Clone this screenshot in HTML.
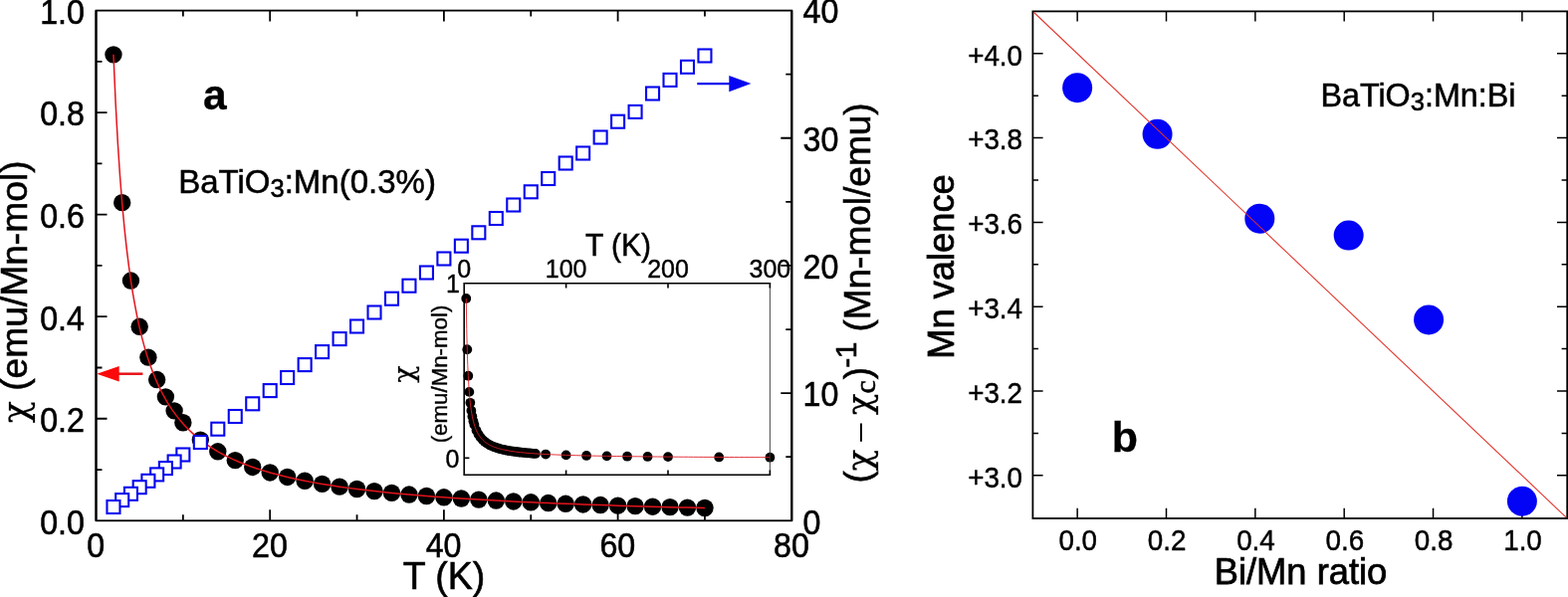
<!DOCTYPE html>
<html lang="en">
<head>
<meta charset="utf-8">
<title>Magnetic susceptibility and Mn valence of BaTiO3:Mn</title>
<style>
html,body{margin:0;padding:0;background:#fff;}
body{width:1575px;height:600px;overflow:hidden;}
svg{display:block;}
text{fill:#000;font-family:"Liberation Sans",sans-serif;}
</style>
</head>
<body>
<svg width="1575" height="600" viewBox="0 0 1575 600" role="img" aria-label="Magnetic susceptibility of BaTiO3:Mn and Mn valence versus Bi/Mn ratio">
<rect x="0" y="0" width="1575" height="600" fill="#fff"/>
<g id="panel-a">
<g fill="#000">
<circle cx="113.97" cy="54.84" r="8.7"/>
<circle cx="122.7" cy="203.64" r="8.7"/>
<circle cx="131.44" cy="282.06" r="8.7"/>
<circle cx="140.18" cy="328.29" r="8.7"/>
<circle cx="148.91" cy="359.13" r="8.7"/>
<circle cx="157.64" cy="381.55" r="8.7"/>
<circle cx="166.38" cy="398.84" r="8.7"/>
<circle cx="175.12" cy="412.86" r="8.7"/>
<circle cx="183.85" cy="424.73" r="8.7"/>
<circle cx="201.32" cy="442.08" r="8.7"/>
<circle cx="218.79" cy="453.79" r="8.7"/>
<circle cx="236.26" cy="462.6" r="8.7"/>
<circle cx="253.73" cy="469.46" r="8.7"/>
<circle cx="271.2" cy="474.96" r="8.7"/>
<circle cx="288.67" cy="479.47" r="8.7"/>
<circle cx="306.14" cy="483.23" r="8.7"/>
<circle cx="323.61" cy="486.41" r="8.7"/>
<circle cx="341.08" cy="489.14" r="8.7"/>
<circle cx="358.55" cy="491.51" r="8.7"/>
<circle cx="376.02" cy="493.59" r="8.7"/>
<circle cx="393.49" cy="495.42" r="8.7"/>
<circle cx="410.96" cy="497.04" r="8.7"/>
<circle cx="428.43" cy="498.5" r="8.7"/>
<circle cx="445.9" cy="499.81" r="8.7"/>
<circle cx="463.37" cy="501" r="8.7"/>
<circle cx="480.84" cy="502.08" r="8.7"/>
<circle cx="498.31" cy="503.07" r="8.7"/>
<circle cx="515.78" cy="503.97" r="8.7"/>
<circle cx="533.25" cy="504.81" r="8.7"/>
<circle cx="550.72" cy="505.57" r="8.7"/>
<circle cx="568.19" cy="506.29" r="8.7"/>
<circle cx="585.66" cy="506.95" r="8.7"/>
<circle cx="603.13" cy="507.56" r="8.7"/>
<circle cx="620.6" cy="508.14" r="8.7"/>
<circle cx="638.07" cy="508.67" r="8.7"/>
<circle cx="655.54" cy="509.18" r="8.7"/>
<circle cx="673.01" cy="509.65" r="8.7"/>
<circle cx="690.48" cy="510.1" r="8.7"/>
<circle cx="707.95" cy="510.52" r="8.7"/>
</g>
<polyline fill="none" stroke="#e3141c" stroke-width="1.5" points="113.97,54.84 116.15,104.07 118.34,143.96 120.52,176.94 122.7,204.67 124.89,228.3 127.07,248.68 129.26,266.44 131.44,282.06 133.62,295.89 135.81,308.24 137.99,319.32 140.18,329.32 142.36,338.39 144.54,346.66 146.73,354.23 148.91,361.18 151.09,367.58 153.28,373.51 155.46,379 157.64,384.11 159.83,388.87 162.01,393.32 164.2,397.49 166.38,401.4 168.56,405.08 170.75,408.55 172.93,411.82 175.12,414.91 177.3,417.84 179.48,420.62 181.67,423.25 183.85,425.76 186.03,428.14 188.22,430.41 190.4,432.58 192.58,434.65 194.77,436.63 196.95,438.53 199.14,440.34 201.32,442.08 203.5,443.75 205.69,445.36 207.87,446.9 210.06,448.38 212.24,449.81 214.42,451.19 216.61,452.51 218.79,453.79 220.97,455.03 223.16,456.22 225.34,457.37 227.53,458.49 229.71,459.56 231.89,460.61 234.08,461.62 236.26,462.6 238.44,463.55 240.63,464.47 242.81,465.36 244.99,466.23 247.18,467.07 249.36,467.89 251.55,468.69 253.73,469.46 255.91,470.21 258.1,470.95 260.28,471.66 262.46,472.35 264.65,473.03 266.83,473.69 269.02,474.33 271.2,474.96 279.94,477.32 288.67,479.47 297.4,481.43 306.14,483.23 314.88,484.88 323.61,486.41 332.34,487.83 341.08,489.14 349.81,490.37 358.55,491.51 367.28,492.58 376.02,493.59 384.75,494.53 393.49,495.42 402.23,496.25 410.96,497.04 419.69,497.79 428.43,498.5 437.16,499.17 445.9,499.81 454.63,500.42 463.37,501 472.1,501.55 480.84,502.08 489.57,502.59 498.31,503.07 507.04,503.53 515.78,503.97 524.51,504.4 533.25,504.81 541.98,505.2 550.72,505.57 559.45,505.94 568.19,506.29 576.92,506.62 585.66,506.95 594.39,507.26 603.13,507.56 611.87,507.85 620.6,508.14 629.33,508.41 638.07,508.67 646.8,508.93 655.54,509.18 664.27,509.42 673.01,509.65 681.75,509.88 690.48,510.1 699.21,510.31 707.95,510.52"/>
<g fill="#fff" stroke="#0505ee" stroke-width="2.1">
<rect x="701.45" y="49.5" width="13" height="13"/>
<rect x="683.98" y="60.8" width="13" height="13"/>
<rect x="666.51" y="73.9" width="13" height="13"/>
<rect x="649.04" y="87.5" width="13" height="13"/>
<rect x="631.57" y="105.9" width="13" height="13"/>
<rect x="614.1" y="115.7" width="13" height="13"/>
<rect x="596.63" y="131.5" width="13" height="13"/>
<rect x="579.16" y="147.5" width="13" height="13"/>
<rect x="561.69" y="157.5" width="13" height="13"/>
<rect x="544.22" y="173" width="13" height="13"/>
<rect x="526.75" y="186.3" width="13" height="13"/>
<rect x="509.28" y="199.5" width="13" height="13"/>
<rect x="491.81" y="213" width="13" height="13"/>
<rect x="474.34" y="227.3" width="13" height="13"/>
<rect x="456.87" y="240.7" width="13" height="13"/>
<rect x="439.4" y="253.5" width="13" height="13"/>
<rect x="421.93" y="267.5" width="13" height="13"/>
<rect x="404.46" y="280.7" width="13" height="13"/>
<rect x="386.99" y="293.7" width="13" height="13"/>
<rect x="369.52" y="307.5" width="13" height="13"/>
<rect x="352.05" y="321.5" width="13" height="13"/>
<rect x="334.58" y="334.1" width="13" height="13"/>
<rect x="317.11" y="347.1" width="13" height="13"/>
<rect x="299.64" y="360.1" width="13" height="13"/>
<rect x="282.17" y="373" width="13" height="13"/>
<rect x="264.7" y="386.1" width="13" height="13"/>
<rect x="247.23" y="399.3" width="13" height="13"/>
<rect x="229.76" y="412" width="13" height="13"/>
<rect x="212.29" y="424.7" width="13" height="13"/>
<rect x="194.82" y="438" width="13" height="13"/>
<rect x="177.35" y="450.5" width="13" height="13"/>
<rect x="168.62" y="457.5" width="13" height="13"/>
<rect x="159.88" y="464.1" width="13" height="13"/>
<rect x="151.14" y="470.4" width="13" height="13"/>
<rect x="142.41" y="476.8" width="13" height="13"/>
<rect x="133.68" y="483.2" width="13" height="13"/>
<rect x="124.94" y="489.8" width="13" height="13"/>
<rect x="116.2" y="496.1" width="13" height="13"/>
<rect x="107.47" y="503" width="13" height="13"/>
</g>
<g id="inset">
<g fill="#000">
<circle cx="468.25" cy="299.94" r="4.9"/>
<circle cx="469.27" cy="351.23" r="4.9"/>
<circle cx="470.3" cy="377.72" r="4.9"/>
<circle cx="471.32" cy="393.9" r="4.9"/>
<circle cx="472.34" cy="404.8" r="4.9"/>
<circle cx="473.37" cy="412.65" r="4.9"/>
<circle cx="474.39" cy="418.57" r="4.9"/>
<circle cx="475.42" cy="423.2" r="4.9"/>
<circle cx="476.44" cy="426.91" r="4.9"/>
<circle cx="478.49" cy="432.5" r="4.9"/>
<circle cx="480.54" cy="436.51" r="4.9"/>
<circle cx="482.58" cy="439.52" r="4.9"/>
<circle cx="484.63" cy="441.87" r="4.9"/>
<circle cx="486.68" cy="443.75" r="4.9"/>
<circle cx="488.73" cy="445.3" r="4.9"/>
<circle cx="490.78" cy="446.58" r="4.9"/>
<circle cx="492.82" cy="447.67" r="4.9"/>
<circle cx="494.87" cy="448.61" r="4.9"/>
<circle cx="496.92" cy="449.42" r="4.9"/>
<circle cx="498.97" cy="450.13" r="4.9"/>
<circle cx="501.02" cy="450.76" r="4.9"/>
<circle cx="503.06" cy="451.31" r="4.9"/>
<circle cx="505.11" cy="451.81" r="4.9"/>
<circle cx="507.16" cy="452.26" r="4.9"/>
<circle cx="509.21" cy="452.67" r="4.9"/>
<circle cx="511.26" cy="453.04" r="4.9"/>
<circle cx="513.3" cy="453.37" r="4.9"/>
<circle cx="515.35" cy="453.68" r="4.9"/>
<circle cx="517.4" cy="453.97" r="4.9"/>
<circle cx="519.45" cy="454.23" r="4.9"/>
<circle cx="521.5" cy="454.48" r="4.9"/>
<circle cx="523.54" cy="454.7" r="4.9"/>
<circle cx="525.59" cy="454.91" r="4.9"/>
<circle cx="527.64" cy="455.11" r="4.9"/>
<circle cx="529.69" cy="455.29" r="4.9"/>
<circle cx="531.74" cy="455.47" r="4.9"/>
<circle cx="533.78" cy="455.63" r="4.9"/>
<circle cx="535.83" cy="455.78" r="4.9"/>
<circle cx="537.88" cy="455.92" r="4.9"/>
<circle cx="548.12" cy="456.54" r="4.9"/>
<circle cx="568.6" cy="457.39" r="4.9"/>
<circle cx="589.08" cy="457.96" r="4.9"/>
<circle cx="609.56" cy="458.37" r="4.9"/>
<circle cx="630.04" cy="458.68" r="4.9"/>
<circle cx="650.52" cy="458.92" r="4.9"/>
<circle cx="671" cy="459.11" r="4.9"/>
<circle cx="722.2" cy="459.45" r="4.9"/>
<circle cx="773.4" cy="459.68" r="4.9"/>
</g>
<polyline fill="none" stroke="#e0202a" stroke-width="0.9" points="468.25,299.94 468.76,330.45 469.27,351.23 469.78,366.3 470.3,377.72 470.81,386.68 471.32,393.9 471.83,399.84 472.34,404.8 472.86,409.03 473.37,412.65 473.88,415.81 474.39,418.57 474.9,421.02 475.42,423.2 475.93,425.15 476.44,426.91 476.95,428.5 477.46,429.96 477.98,431.28 478.49,432.5 479,433.62 479.51,434.66 480.02,435.62 480.54,436.51 481.05,437.34 481.56,438.11 482.07,438.84 482.58,439.52 483.1,440.16 483.61,440.76 484.12,441.33 484.63,441.87 485.14,442.38 485.66,442.86 486.17,443.32 486.68,443.75 487.19,444.17 487.7,444.56 488.22,444.94 488.73,445.3 489.24,445.64 489.75,445.97 490.26,446.28 490.78,446.58 491.29,446.87 491.8,447.15 492.31,447.42 492.82,447.67 493.34,447.92 493.85,448.16 494.36,448.39 494.87,448.61 495.38,448.82 495.9,449.03 496.41,449.23 496.92,449.42 497.43,449.6 497.94,449.78 498.46,449.96 498.97,450.13 499.48,450.29 499.99,450.45 500.5,450.61 501.02,450.76 501.53,450.9 502.04,451.04 502.55,451.18 503.06,451.31 503.58,451.44 504.09,451.57 504.6,451.69 505.11,451.81 505.62,451.93 506.14,452.04 506.65,452.15 507.16,452.26 512.28,453.21 517.4,453.97 522.52,454.59 527.64,455.11 532.76,455.55 537.88,455.92 543,456.25 548.12,456.54 553.24,456.79 558.36,457.01 563.48,457.21 568.6,457.39 573.72,457.56 578.84,457.7 583.96,457.84 589.08,457.96 594.2,458.08 599.32,458.18 604.44,458.28 609.56,458.37 614.68,458.46 619.8,458.54 624.92,458.61 630.04,458.68 635.16,458.74 640.28,458.81 645.4,458.86 650.52,458.92 655.64,458.97 660.76,459.02 665.88,459.06 671,459.11 676.12,459.15 681.24,459.19 686.36,459.23 691.48,459.26 696.6,459.3 701.72,459.33 706.84,459.36 711.96,459.39 717.08,459.42 722.2,459.45 727.32,459.48 732.44,459.5 737.56,459.53 742.68,459.55 747.8,459.58 752.92,459.6 758.04,459.62 763.16,459.64 768.28,459.66 773.4,459.68"/>
<g stroke="#000" stroke-width="1.6" fill="none">
<path d="M773.4 284.8H466.2V477.2H773.4"/>
<path d="M773.4 284.8V477.2" stroke-width="0.9" stroke="#333"/>
<path d="M568.6 284v5.5M568.6 478v-5.5"/>
<path d="M671 284v5.5M671 478v-5.5"/>
<path d="M773.4 284v5.5M773.4 478v-5.5"/>
<path d="M466.2 460.3h5.2"/>
</g>
<text transform="translate(466.2 278.6) scale(1 1.045)" font-size="25" text-anchor="middle" stroke="#000" stroke-width="0.4">0</text>
<text transform="translate(568.6 278.6) scale(1 1.045)" font-size="25" text-anchor="middle" stroke="#000" stroke-width="0.4">100</text>
<text transform="translate(671 278.6) scale(1 1.045)" font-size="25" text-anchor="middle" stroke="#000" stroke-width="0.4">200</text>
<text transform="translate(773.4 278.6) scale(1 1.045)" font-size="25" text-anchor="middle" stroke="#000" stroke-width="0.4">300</text>
<text transform="translate(461.8 294.4) scale(1 1.045)" font-size="25" text-anchor="end" stroke="#000" stroke-width="0.4">1</text>
<text transform="translate(461.3 469.8) scale(1 1.045)" font-size="25" text-anchor="end" stroke="#000" stroke-width="0.4">0</text>
<text transform="translate(621 257) scale(1 1.045)" font-size="30" text-anchor="middle" stroke="#000" stroke-width="0.48">T (K)</text>
<text transform="translate(449.3 376) rotate(-90) scale(1 0.980)" font-size="22.3" text-anchor="middle" stroke="#000" stroke-width="0.36">(emu/Mn-mol)</text>
<text transform="translate(415 376.2) rotate(-90) scale(1 1.000)" font-size="30" text-anchor="middle" stroke="#000" stroke-width="0.48"><tspan font-family='"DejaVu Serif", serif' font-size="28.5" stroke-width="0.25">χ</tspan></text>
</g>
<g stroke="#000" stroke-width="1.8" fill="none">
<rect x="96.5" y="10.6" width="698.8" height="512.7"/>
<path d="M96.5 10.6V523.3M795.3 10.6V523.3" stroke-width="2.1"/>
<path d="M183.85 523.3v-6M183.85 10.6v6M271.2 523.3v-11M271.2 10.6v11M358.55 523.3v-6M358.55 10.6v6M445.9 523.3v-11M445.9 10.6v11M533.25 523.3v-6M533.25 10.6v6M620.6 523.3v-11M620.6 10.6v11M707.95 523.3v-6M707.95 10.6v6M96.5 472.03h6M96.5 420.76h11M96.5 369.49h6M96.5 318.22h11M96.5 266.95h6M96.5 215.68h11M96.5 164.41h6M96.5 113.14h11M96.5 61.87h6M795.3 459.21h-6M795.3 395.12h-11M795.3 331.04h-6M795.3 266.95h-11M795.3 202.86h-6M795.3 138.77h-11M795.3 74.69h-6"/>
</g>
<path d="M143.4 375.7H118" stroke="#e61219" stroke-width="2.5" fill="none"/>
<path d="M97.2 375.7L119.7 368V383.4Z" fill="#fa0a0a"/>
<path d="M700.3 84.1H733" stroke="#0505ee" stroke-width="2.4" fill="none"/>
<path d="M754.4 84.1L732.3 76V92.2Z" fill="#0505f2"/>
<text transform="translate(84.9 536.5) scale(1 1.072)" font-size="32.2" text-anchor="end" stroke="#000" stroke-width="0.52">0.0</text>
<text transform="translate(84.9 433.96) scale(1 1.072)" font-size="32.2" text-anchor="end" stroke="#000" stroke-width="0.52">0.2</text>
<text transform="translate(84.9 331.62) scale(1 1.072)" font-size="32.2" text-anchor="end" stroke="#000" stroke-width="0.52">0.4</text>
<text transform="translate(84.9 228.88) scale(1 1.072)" font-size="32.2" text-anchor="end" stroke="#000" stroke-width="0.52">0.6</text>
<text transform="translate(84.9 125.74) scale(1 1.072)" font-size="32.2" text-anchor="end" stroke="#000" stroke-width="0.52">0.8</text>
<text transform="translate(84.9 23.5) scale(1 1.072)" font-size="32.2" text-anchor="end" stroke="#000" stroke-width="0.52">1.0</text>
<text transform="translate(96.2 560.3) scale(1 1.072)" font-size="32.2" text-anchor="middle" stroke="#000" stroke-width="0.52">0</text>
<text transform="translate(270.9 560.3) scale(1 1.072)" font-size="32.2" text-anchor="middle" stroke="#000" stroke-width="0.52">20</text>
<text transform="translate(445.6 560.3) scale(1 1.072)" font-size="32.2" text-anchor="middle" stroke="#000" stroke-width="0.52">40</text>
<text transform="translate(620.3 560.3) scale(1 1.072)" font-size="32.2" text-anchor="middle" stroke="#000" stroke-width="0.52">60</text>
<text transform="translate(795 560.3) scale(1 1.072)" font-size="32.2" text-anchor="middle" stroke="#000" stroke-width="0.52">80</text>
<text transform="translate(806.6 536.7) scale(1 1.072)" font-size="32.2" stroke="#000" stroke-width="0.52">0</text>
<text transform="translate(806.6 408.23) scale(1 1.072)" font-size="32.2" stroke="#000" stroke-width="0.52">10</text>
<text transform="translate(806.6 280.2) scale(1 1.072)" font-size="32.2" stroke="#000" stroke-width="0.52">20</text>
<text transform="translate(806.6 152.27) scale(1 1.072)" font-size="32.2" stroke="#000" stroke-width="0.52">30</text>
<text transform="translate(806.6 23.2) scale(1 1.072)" font-size="32.2" stroke="#000" stroke-width="0.52">40</text>
<text transform="translate(446 591.9) scale(1 1.045)" font-size="37.5" text-anchor="middle" stroke="#000" stroke-width="0.6">T (K)</text>
<text transform="translate(27 425.3) rotate(-90) scale(1 0.995)" font-size="37.2" stroke="#000" stroke-width="0.6"><tspan font-family='"DejaVu Serif", serif' font-size="36.5" dy="1.5" stroke-width="0.25">χ</tspan><tspan dy="-1.5"> (emu/Mn-mol)</tspan></text>
<text transform="translate(873.9 485.6) rotate(-90) scale(1 1.000)" font-size="37" stroke="#000" stroke-width="0.59"><tspan x="0" y="0">(</tspan><tspan x="12.0" y="0.8" font-family='"DejaVu Serif", serif' font-size="36" stroke-width="0.25">χ</tspan><tspan x="39.9" y="4.4" font-family='"Liberation Serif", serif' font-size="39.4" stroke-width="0">−</tspan><tspan x="68.4" y="0.8" font-family='"DejaVu Serif", serif' font-size="36" stroke-width="0.25">χ</tspan><tspan x="90.2" y="5.4" font-family='"Liberation Serif", serif' font-size="30" stroke-width="0.6">c</tspan><tspan x="104.4" y="0">)</tspan><tspan x="115.8" y="-14.1" font-size="30">-</tspan><tspan x="125.4" y="-14.1" font-size="30">1</tspan><tspan x="152.0" y="0">(Mn-mol/emu)</tspan></text>
<text transform="translate(179.2 193.7) scale(1 1.000)" font-size="33" stroke="#000" stroke-width="0.53">BaTiO<tspan font-size="25.5" dy="4.4">3</tspan><tspan dy="-4.4">:Mn(0.3%)</tspan></text>
<text transform="translate(204 109.7) scale(1 1.000)" font-size="42.5" font-weight="bold" stroke="#000" stroke-width="0.3">a</text>
</g>
<g id="panel-b">
<g stroke="#000" stroke-width="1.5" fill="none">
<rect x="1037.4" y="11.4" width="536.8" height="509.6" stroke-width="1.8"/>
<path d="M1082.15 521v-10.2M1082.15 11.4v10.2M1171.5 521v-10.2M1171.5 11.4v10.2M1260.85 521v-10.2M1260.85 11.4v10.2M1350.2 521v-10.2M1350.2 11.4v10.2M1439.55 521v-10.2M1439.55 11.4v10.2M1528.9 521v-10.2M1528.9 11.4v10.2M1037.4 477.8h10.2M1574.2 477.8h-10.2M1037.4 435.4h5.6M1574.2 435.4h-5.6M1037.4 393h10.2M1574.2 393h-10.2M1037.4 350.6h5.6M1574.2 350.6h-5.6M1037.4 308.2h10.2M1574.2 308.2h-10.2M1037.4 265.8h5.6M1574.2 265.8h-5.6M1037.4 223.4h10.2M1574.2 223.4h-10.2M1037.4 181h5.6M1574.2 181h-5.6M1037.4 138.6h10.2M1574.2 138.6h-10.2M1037.4 96.2h5.6M1574.2 96.2h-5.6M1037.4 53.8h10.2M1574.2 53.8h-10.2"/>
</g>
<g fill="#0303f5">
<circle cx="1082.15" cy="88.22" r="15"/>
<circle cx="1162.57" cy="134.86" r="15"/>
<circle cx="1265.32" cy="219.66" r="15"/>
<circle cx="1354.67" cy="236.62" r="15"/>
<circle cx="1435.08" cy="321.42" r="15"/>
<circle cx="1528.9" cy="503.74" r="15"/>
</g>
<path d="M1038.3 12.25L1573.3 520.15" stroke="#e03228" stroke-width="1.05" fill="none"/>
<text transform="translate(1027 489.6) scale(1 1.070)" font-size="27.8" text-anchor="end" stroke="#000" stroke-width="0.44">+3.0</text>
<text transform="translate(1027 404.8) scale(1 1.070)" font-size="27.8" text-anchor="end" stroke="#000" stroke-width="0.44">+3.2</text>
<text transform="translate(1027 320) scale(1 1.070)" font-size="27.8" text-anchor="end" stroke="#000" stroke-width="0.44">+3.4</text>
<text transform="translate(1027 235.2) scale(1 1.070)" font-size="27.8" text-anchor="end" stroke="#000" stroke-width="0.44">+3.6</text>
<text transform="translate(1027 150.4) scale(1 1.070)" font-size="27.8" text-anchor="end" stroke="#000" stroke-width="0.44">+3.8</text>
<text transform="translate(1027 65.6) scale(1 1.070)" font-size="27.8" text-anchor="end" stroke="#000" stroke-width="0.44">+4.0</text>
<text transform="translate(1082.75 552.9) scale(1 1.070)" font-size="27.8" text-anchor="middle" stroke="#000" stroke-width="0.44">0.0</text>
<text transform="translate(1172.1 552.9) scale(1 1.070)" font-size="27.8" text-anchor="middle" stroke="#000" stroke-width="0.44">0.2</text>
<text transform="translate(1261.45 552.9) scale(1 1.070)" font-size="27.8" text-anchor="middle" stroke="#000" stroke-width="0.44">0.4</text>
<text transform="translate(1350.8 552.9) scale(1 1.070)" font-size="27.8" text-anchor="middle" stroke="#000" stroke-width="0.44">0.6</text>
<text transform="translate(1440.15 552.9) scale(1 1.070)" font-size="27.8" text-anchor="middle" stroke="#000" stroke-width="0.44">0.8</text>
<text transform="translate(1529.5 552.9) scale(1 1.070)" font-size="27.8" text-anchor="middle" stroke="#000" stroke-width="0.44">1.0</text>
<text transform="translate(1306.5 586.7) scale(1 1.000)" font-size="36.3" text-anchor="middle" stroke="#000" stroke-width="0.75">Bi/Mn ratio</text>
<text transform="translate(957.9 268) rotate(-90) scale(1 1.000)" font-size="36.3" text-anchor="middle" stroke="#000" stroke-width="0.75">Mn valence</text>
<text transform="translate(1326.4 106.9) scale(1 1.000)" font-size="32.3" stroke="#000" stroke-width="0.52">BaTiO<tspan font-size="25.5" dy="4.4">3</tspan><tspan dy="-4.4">:Mn:Bi</tspan></text>
<text transform="translate(1116.8 453.8) scale(1 1.010)" font-size="43" font-weight="bold" stroke="#000" stroke-width="0.3">b</text>
</g>
</svg>
</body>
</html>
